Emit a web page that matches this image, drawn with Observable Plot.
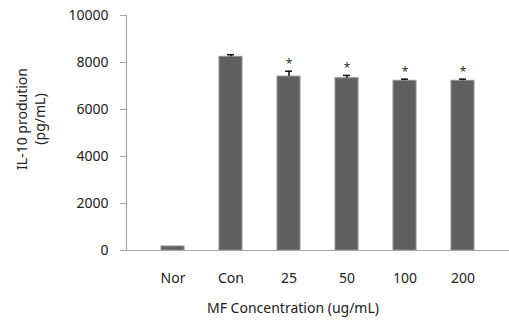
<!DOCTYPE html>
<html>
<head>
<meta charset="utf-8">
<script src="https://cdn.jsdelivr.net/npm/d3@7"></script>
<script src="https://cdn.jsdelivr.net/npm/@observablehq/plot@0.6"></script>
<style>
  html, body { margin: 0; padding: 0; background: #fff; }
  svg { display: block; }
</style>
</head>
<body>
<div id="chart"></div>
<script>
const categories = ["Nor", "Con", "25", "50", "100", "200"];
const values = [170, 8240, 7400, 7330, 7220, 7220];
const errors = [0, 90, 230, 120, 70, 70];
const marks = ["", "", "*", "*", "*", "*"];
const yTicks = [0, 2000, 4000, 6000, 8000, 10000];
const yLabel = "IL-10 prodution\n(pg/mL)";
const xLabel = "MF Concentration (ug/mL)";

const data = categories.map((c, i) => ({cat: c, value: values[i], err: errors[i], mark: marks[i]}));
const withErr = data.filter(d => d.err > 0);
const withMark = data.filter(d => d.mark);

const axisColor = "#a6a6a6";
const font = "'Noto Sans', 'Open Sans', sans-serif";

const chart = Plot.plot({
  width: 509,
  height: 320,
  marginLeft: 126,
  marginRight: 0,
  marginTop: 15,
  marginBottom: 70,
  style: {fontFamily: font, fontSize: "14px", color: "#222", background: "#fff", overflow: "visible"},
  x: {domain: categories, padding: 0.6, align: 0.5, label: null},
  y: {domain: [0, 10000], label: null},
  marks: [
    Plot.barY(data, {x: "cat", y: "value", fill: "#606060", stroke: "#8f8f8f", strokeWidth: 1}),
    Plot.ruleX(withErr, {x: "cat", y1: "value", y2: d => d.value + d.err, stroke: "#111", strokeWidth: 1.5}),
    Plot.tickY(withErr, {x: "cat", y: d => d.value + d.err, stroke: "#111", strokeWidth: 1.5, insetLeft: 8, insetRight: 8}),
    Plot.text(withMark, {x: "cat", y: d => d.value + d.err, text: "mark", dy: -7, fontSize: 12, fill: "#333", lineAnchor: "middle"}),
    Plot.ruleY([0], {stroke: axisColor, strokeWidth: 1.2}),
    Plot.axisY({ticks: yTicks, tickFormat: "d", tickSize: 6, tickPadding: 12, stroke: axisColor, fill: "#222", label: null}),
    Plot.frame({anchor: "left", stroke: axisColor, strokeWidth: 1.2}),
    Plot.axisX({tickSize: 0, tickPadding: 23, fill: "#222", label: null}),
    Plot.text([yLabel], {frameAnchor: "left", rotate: -90, dx: -96, dy: -14, textAnchor: "middle", lineAnchor: "middle", lineHeight: 1.25, fill: "#222", fontSize: 14}),
    Plot.text([xLabel], {frameAnchor: "bottom", dx: -25, dy: 58, lineAnchor: "middle", fill: "#222", fontSize: 14})
  ]
});
document.getElementById("chart").appendChild(chart);
</script>
</body>
</html>
